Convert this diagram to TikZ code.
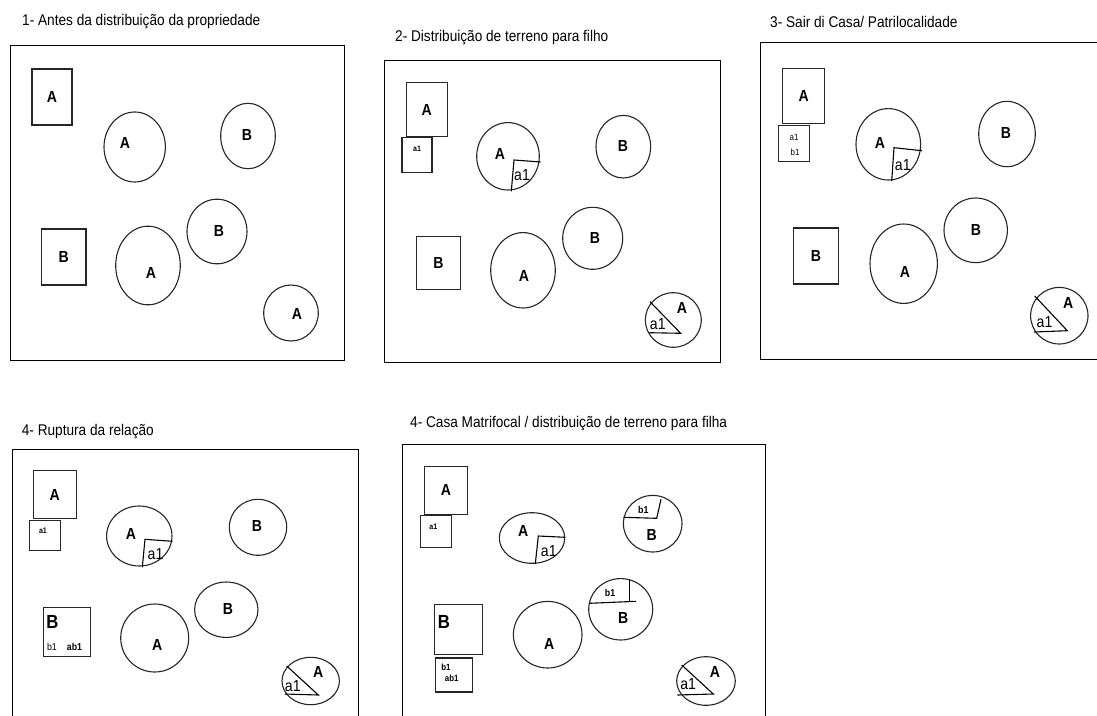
\documentclass[tikz,border=0pt]{standalone}
\usepackage{fontspec}
\newfontfamily\narrow{Liberation Sans}[FakeStretch=0.88]
\usetikzlibrary{shapes.geometric,positioning}

\begin{document}
\begin{tikzpicture}[
    x=1pt, y=-1pt,
    house/.style={rectangle, draw=black!85, line width=1.1pt, inner sep=0pt, font=\narrow\bfseries\fontsize{16}{16}\selectfont},
    land/.style={ellipse, draw=black!85, line width=1.1pt, inner sep=0pt},
    cut/.style={draw=black, line width=1.1pt},
    frame/.style={draw=black, line width=0.8pt},
    title/.style={anchor=west, inner sep=0pt, font=\narrow\fontsize{15.5}{16}\selectfont},
    tag/.style={inner sep=0pt, font=\narrow\bfseries\fontsize{16}{16}\selectfont},
    bigtag/.style={inner sep=0pt, font=\narrow\bfseries\fontsize{19}{19}\selectfont},
    part/.style={inner sep=0pt, font=\narrow\fontsize{16}{16}\selectfont},
    tiny/.style={inner sep=0pt, font=\narrow\bfseries\fontsize{8}{8}\selectfont},
    small/.style={inner sep=0pt, font=\narrow\fontsize{10}{10}\selectfont},
    smallb/.style={inner sep=0pt, font=\narrow\bfseries\fontsize{10}{10}\selectfont}
]
\useasboundingbox[fill=white] (0,0) rectangle (1097,715);

% Panel 1
\node[title] (t1) at (22,22) {1- Antes da distribuição da propriedade};
\draw[frame] (10,45) rectangle (344,360);
\node[house, minimum width=40, minimum height=56] (p1hA) at (52,97) {A};
\node[house, minimum width=44.3, minimum height=56] (p1hB) at (63.8,257) {B};
\node[land, minimum width=61.4, minimum height=70] (p1fA) at (134.7,147) {};
\node[tag] (p1fAt) at (125,143) {A};
\node[land, minimum width=54.6, minimum height=65.4] (p1fB) at (248,136) {};
\node[tag] (p1fBt) at (247,135) {B};
\node[land, minimum width=60, minimum height=64.6] (p1fB2) at (217,231.5) {};
\node[tag] (p1fB2t) at (219,231) {B};
\node[land, minimum width=64.6, minimum height=78.6] (p1fA2) at (148,265.5) {};
\node[tag] (p1fA2t) at (151,273) {A};
\node[land, minimum width=54.6, minimum height=56] (p1fA3) at (291,313) {};
\node[tag] (p1fA3t) at (297,314) {A};

% Panel 2
\node[title] (t2) at (395,38) {2- Distribuição de terreno para filho};
\draw[frame] (384,60) rectangle (720,362);
\node[house, minimum width=41.3, minimum height=54] (p2hA) at (426.7,109.7) {A};
\node[house, minimum width=30, minimum height=35.7] (p2ha) at (417,154.9) {};
\node[tiny] (p2hat) at (417,149) {a1};
\node[land, minimum width=62.6, minimum height=67.4] (p2fA) at (508,156.3) {};
\node[tag] (p2fAt) at (500,154) {A};
\draw[cut] (540.7,162) -- (514,160) -- (511.3,191.3);
\node[part] (p2fAp) at (522,175) {a1};
\node[land, minimum width=54.6, minimum height=62.6] (p2fB) at (623.3,146.7) {};
\node[tag] (p2fBt) at (623,146) {B};
\node[land, minimum width=60, minimum height=62] (p2fB2) at (592.7,238.3) {};
\node[tag] (p2fB2t) at (595,238) {B};
\node[house, minimum width=44.7, minimum height=53.3] (p2hB) at (438.4,262.7) {B};
\node[land, minimum width=64.6, minimum height=75.4] (p2fA2) at (523,270.3) {};
\node[tag] (p2fA2t) at (524,276) {A};
\node[land, minimum width=56, minimum height=54.6] (p2fA3) at (673.3,320) {};
\node[tag] (p2fA3t) at (682,308) {A};
\draw[cut] (650,301.7) -- (680.7,333.3) -- (649.3,332.7);
\node[part] (p2fA3p) at (657.8,324) {a1};

% Panel 3
\node[title] (t3) at (770,22) {3- Sair di Casa/ Patrilocalidade};
\draw[frame] (1097,42.7) -- (760,42.7) -- (760,359.3) -- (1097,359.3);
\node[house, minimum width=42, minimum height=55.3] (p3hA) at (803.7,95.7) {A};
\node[house, minimum width=30.6, minimum height=36] (p3hab) at (794,143.3) {};
\node[small, font=\narrow\fontsize{9}{9}\selectfont] (p3haa) at (794,137) {a1};
\node[small, font=\narrow\fontsize{9}{9}\selectfont] (p3hab1) at (795,152) {b1};
\node[land, minimum width=64.6, minimum height=71.4] (p3fA) at (888.3,144.3) {};
\node[tag] (p3fAt) at (880,142.7) {A};
\draw[cut] (922,150.7) -- (894,147.7) -- (891.7,181);
\node[part] (p3fAp) at (902.8,165) {a1};
\node[land, minimum width=56.6, minimum height=65.4] (p3fB) at (1007,134) {};
\node[tag] (p3fBt) at (1006,133) {B};
\node[land, minimum width=63.4, minimum height=64.6] (p3fB2) at (975.7,230.3) {};
\node[tag] (p3fB2t) at (976,230) {B};
\node[house, minimum width=45.4, minimum height=56] (p3hB) at (816,256) {B};
\node[land, minimum width=67.4, minimum height=79.4] (p3fA2) at (903.7,263.7) {};
\node[tag] (p3fA2t) at (905,272) {A};
\node[land, minimum width=57.4, minimum height=56.6] (p3fA3) at (1059.3,315.7) {};
\node[tag] (p3fA3t) at (1068.3,302.7) {A};
\draw[cut] (1034.7,296) -- (1067.3,330.7) -- (1034,332);
\node[part] (p3fA3p) at (1044.5,321.7) {a1};

% Panel 4
\node[title] (t4) at (21.7,431.7) {4- Ruptura da relação};
\draw[frame] (12,716) -- (12,449.3) -- (358.7,449.3) -- (358.7,716);
\node[house, minimum width=42.7, minimum height=47.6] (p4hA) at (54.7,494.5) {A};
\node[house, minimum width=31.4, minimum height=30.7] (p4ha) at (45,535.4) {};
\node[tiny] (p4hat) at (43,531) {a1};
\node[land, minimum width=65.4, minimum height=60] (p4fA) at (139.3,536) {};
\node[tag] (p4fAt) at (131,534.3) {A};
\draw[cut] (172.3,541.3) -- (145,539.3) -- (142.3,567.3);
\node[part] (p4fAp) at (155.5,554) {a1};
\node[land, minimum width=57.4, minimum height=56] (p4fB) at (258,527.3) {};
\node[tag] (p4fBt) at (257,526) {B};
\node[land, minimum width=63.4, minimum height=55.4] (p4fB2) at (226.3,609.7) {};
\node[tag] (p4fB2t) at (228,609) {B};
\node[house, minimum width=46.7, minimum height=48.7] (p4hB) at (66.7,631.7) {};
\node[bigtag] (p4hBt) at (52.5,622.3) {B};
\node[small] (p4hBb) at (52,646.7) {b1};
\node[smallb] (p4hBab) at (74.5,646.7) {ab1};
\node[land, minimum width=68, minimum height=68] (p4fA2) at (154.7,638) {};
\node[tag] (p4fA2t) at (157.3,645) {A};
\node[land, minimum width=57.4, minimum height=47.4] (p4fA3) at (310.7,681) {};
\node[tag] (p4fA3t) at (318.3,671.7) {A};
\draw[cut] (286.7,666) -- (318.3,695) -- (285,694);
\node[part] (p4fA3p) at (292.8,686) {a1};

% Panel 5
\node[title] (t5) at (410,423.3) {4- Casa Matrifocal / distribuição de terreno para filha};
\draw[frame] (402,716) -- (402,444) -- (765,444) -- (765,716);
\node[house, minimum width=42.6, minimum height=48.7] (p5hA) at (446,490.4) {A};
\node[house, minimum width=31.3, minimum height=32] (p5ha) at (435.7,531.3) {};
\node[tiny] (p5hat) at (433.3,526.7) {a1};
\node[land, minimum width=65.4, minimum height=50.6] (p5fA) at (532,538) {};
\node[tag] (p5fAt) at (523.3,530.7) {A};
\draw[cut] (565.3,537.3) -- (538.3,536) -- (535.3,564);
\node[part] (p5fAp) at (548.8,550.7) {a1};
\node[land, minimum width=58.6, minimum height=56.6] (p5fB) at (652.7,523.7) {};
\node[tag] (p5fBt) at (651.7,535) {B};
\draw[cut] (623.3,517.3) -- (656.7,518.3) -- (661,499.3);
\node[smallb] (p5fBp) at (643.3,510) {b1};
\node[land, minimum width=64, minimum height=61.4] (p5fB2) at (620.7,609.3) {};
\node[tag] (p5fB2t) at (623.3,618.3) {B};
\draw[cut] (589.3,603.3) -- (636,601.3);
\draw[cut] (629.3,580) -- (629.3,601.7);
\node[smallb] (p5fB2p) at (610,592.7) {b1};
\node[house, minimum width=47.3, minimum height=49.3] (p5hB) at (458.4,629.4) {};
\node[bigtag] (p5hBt) at (443.8,621.7) {B};
\node[house, minimum width=37.4, minimum height=34] (p5hb) at (454,675) {};
\node[smallb, font=\narrow\bfseries\fontsize{9}{9}\selectfont] (p5hbb) at (446,667.5) {b1};
\node[smallb, font=\narrow\bfseries\fontsize{9}{9}\selectfont] (p5hbab) at (451.7,678) {ab1};
\node[land, minimum width=68.6, minimum height=66.6] (p5fA2) at (547.7,634.7) {};
\node[tag] (p5fA2t) at (549.3,644) {A};
\node[land, minimum width=58.6, minimum height=48.6] (p5fA3) at (706,681) {};
\node[tag] (p5fA3t) at (715,671.7) {A};
\draw[cut] (681.7,665) -- (713.3,694) -- (677.3,695);
\node[part] (p5fA3p) at (688.2,684.3) {a1};

\end{tikzpicture}
\end{document}
